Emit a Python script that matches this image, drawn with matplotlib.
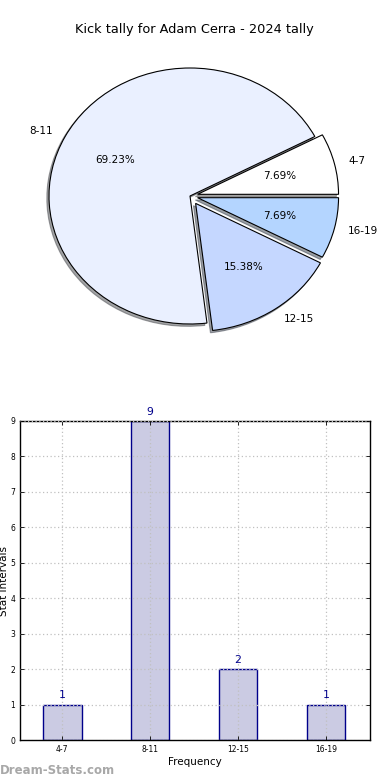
import matplotlib
matplotlib.use("Agg")
import matplotlib.pyplot as plt

# data
categories = ["4-7", "8-11", "12-15", "16-19"]
counts = [1, 9, 2, 1]
pie_colors = ["#ffffff", "#eaf0ff", "#c5d7ff", "#b4d5ff"]
explode = [0.055, 0.0, 0.07, 0.055]
y_ticks = [0, 1, 2, 3, 4, 5, 6, 7, 8, 9]

plt.rcParams['font.family'] = ['DejaVu Sans']

fig = plt.figure(figsize=(3.9, 7.8), dpi=100)

# --- pie (stretched slightly, like the old non-square axes) ---
W, H = 390.0, 780.0
cx, cy = 190.0, H - 196.0
rx, ry = 141.0, 128.0
lim = 1.2
pie_ax = fig.add_axes([(cx - lim * rx) / W, (cy - lim * ry) / H,
                       2 * lim * rx / W, 2 * lim * ry / H])
wedges, texts, autotexts = pie_ax.pie(
    counts, labels=categories, colors=pie_colors, explode=explode,
    autopct="%.2f%%", shadow={"ox": -0.011, "oy": -0.013}, startangle=0,
    wedgeprops={"edgecolor": "black", "linewidth": 0.8},
    textprops={"fontsize": 7.5})
pie_ax.set_aspect("auto")
pie_ax.set_xlim(-lim, lim)
pie_ax.set_ylim(-lim, lim)
pie_ax.axis("off")

fig.text(194 / W, 1 - 30 / H, "Kick tally for Adam Cerra - 2024 tally",
         ha="center", va="center", fontsize=9.3)

# --- bar chart ---
ax = fig.add_axes([20 / W, 40 / H, 350 / W, 319 / H])
x = list(range(len(categories)))
bars = ax.bar(x, counts, width=0.44, color="#cbcbe3", edgecolor="#00008b",
              linewidth=1.0)
for xi, v in zip(x, counts):
    ax.text(xi, v + 0.12, str(v), ha="center", va="bottom",
            fontsize=7.8, color="#00008b")

ax.set_xlim(-0.48, 3.5)
ax.set_ylim(0, 9)
ax.set_xticks(x)
ax.set_xticklabels(categories)
ax.set_yticks(y_ticks)
ax.tick_params(direction="in", top=True, right=True, length=3,
               labelsize=5.5, colors="black", width=0.6)
ax.set_axisbelow(False)
ax.grid(True, linestyle=(0, (1, 2)), color="#c0c0c0", linewidth=0.9)
ax.set_xlabel("Frequency", fontsize=7.5, labelpad=2)
ax.set_ylabel("Stat Intervals", fontsize=7.5, labelpad=1)
for sp in ax.spines.values():
    sp.set_linewidth(1.0)

fig.text(0.0, 9 / H, "Dream-Stats.com", ha="left", va="center",
         fontsize=8.5, color="#a8a8a8", fontweight="bold")

fig.savefig("out.png", dpi=100)
